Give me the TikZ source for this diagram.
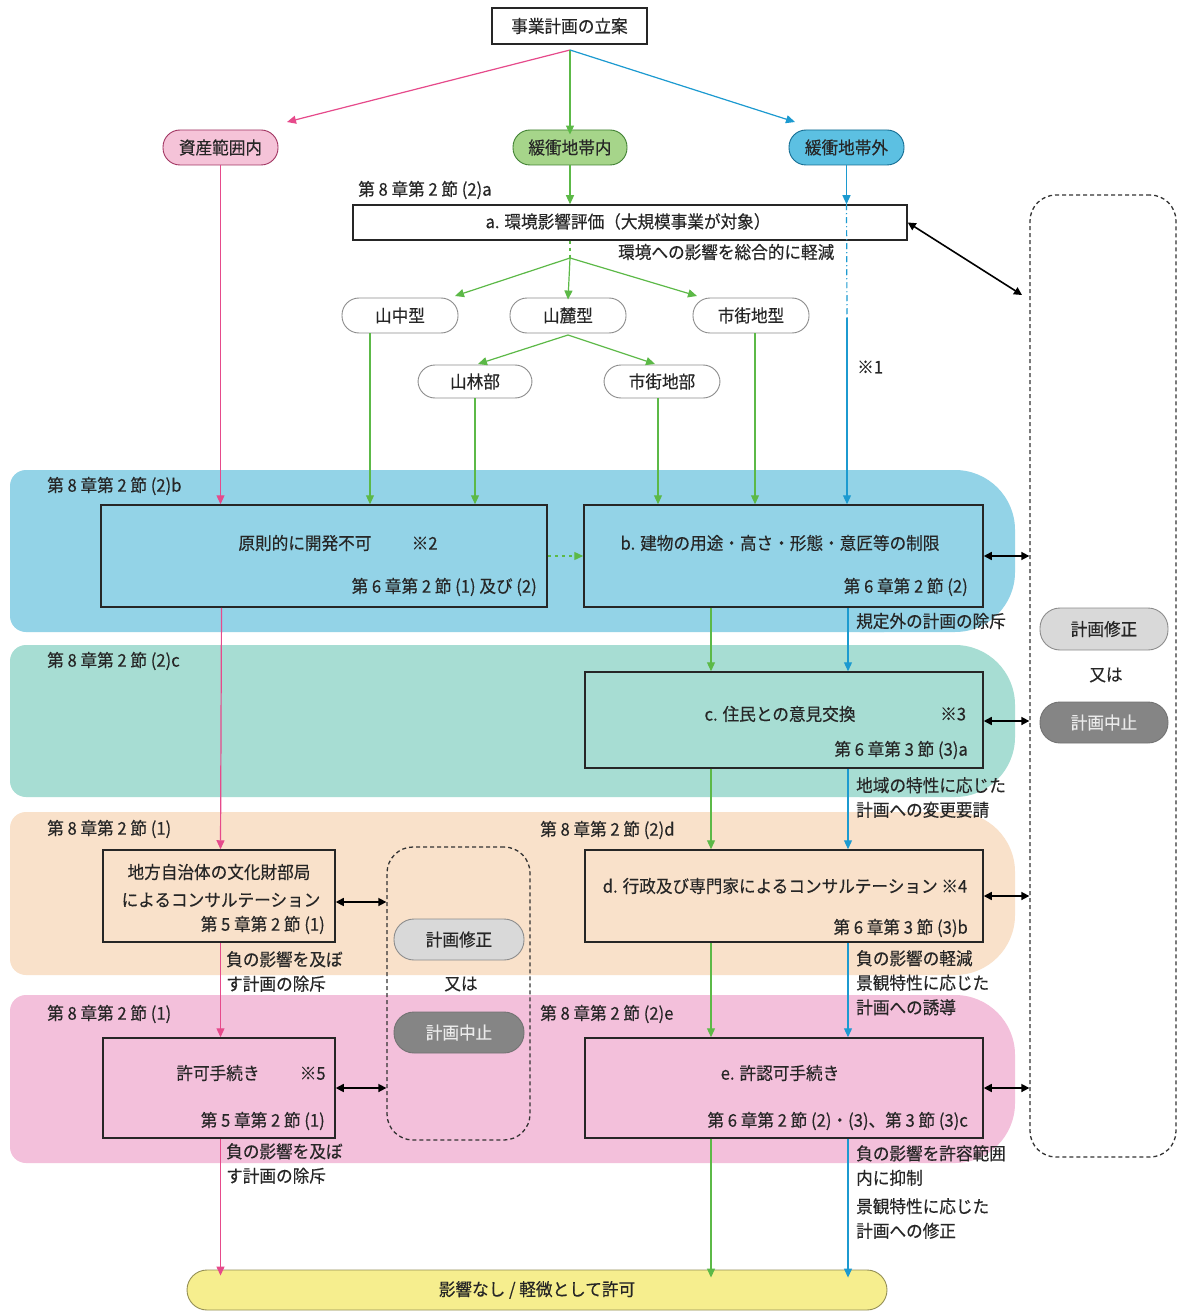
\documentclass[tikz,border=0pt]{standalone}
\usepackage{fontspec}
\setmainfont{Noto Sans CJK JP}[FakeStretch=0.95,FakeBold=0.3]
\usetikzlibrary{arrows.meta,calc}
\definecolor{pinkL}{HTML}{E64A8B}
\definecolor{greenL}{HTML}{5CB947}
\definecolor{blueL}{HTML}{1C9AD0}
\definecolor{bandB}{HTML}{93D3E7}
\definecolor{bandT}{HTML}{A7DDD3}
\definecolor{bandP}{HTML}{F9E1CA}
\definecolor{bandM}{HTML}{F3C0DB}
\definecolor{pillP}{HTML}{F5C3D8}
\definecolor{pillG}{HTML}{A6D58A}
\definecolor{pillB}{HTML}{5CC0E2}
\definecolor{txt}{HTML}{262626}
\definecolor{yel}{HTML}{F6EE8E}
\definecolor{gA}{HTML}{D9D9D9}
\definecolor{gB}{HTML}{858585}
\begin{document}
\begin{tikzpicture}[x=1pt,y=-1pt,
  font=\fontsize{17.5}{20}\selectfont, text=txt,
  bx/.style={draw=black!85, line width=1.5pt, inner sep=0},
  pill/.style={rounded corners=17, draw=#1, line width=0.9pt, inner sep=0, minimum height=35},
  dashbox/.style={draw=black!80, line width=1.3pt, dash pattern=on 4pt off 3pt, rounded corners=26, inner sep=0},
  lbl/.style={anchor=west, inner sep=0},
  lblr/.style={anchor=east, inner sep=0},
  note/.style={anchor=north west, inner sep=0, align=left, font=\fontsize{17.5}{24.5}\selectfont},
  tip/.style={-{Triangle[length=9pt,width=8pt]}},
  arrP/.style={pinkL, line width=1.2pt, tip},
  arrG/.style={greenL, line width=1.2pt, tip},
  arrB/.style={blueL, line width=1.2pt, tip},
  dbl/.style={black, line width=1.6pt, {Triangle[length=8pt,width=8pt]}-{Triangle[length=8pt,width=8pt]}}
]
\useasboundingbox (0,0) rectangle (1178,1313);
\fill[white] (0,0) rectangle (1178,1313);

% bands
\fill[bandB, rounded corners=16] (10,470) rectangle (900,632);
\fill[bandB, rounded corners=60] (800,470) rectangle (1015,632);
\fill[bandT, rounded corners=16] (10,645) rectangle (900,797);
\fill[bandT, rounded corners=60] (800,645) rectangle (1015,797);
\fill[bandP, rounded corners=16] (10,812) rectangle (900,975);
\fill[bandP, rounded corners=60] (800,812) rectangle (1015,975);
\fill[bandM, rounded corners=16] (10,995) rectangle (900,1163);
\fill[bandM, rounded corners=60] (800,995) rectangle (1015,1163);

% top and branch nodes
\node[bx, fill=white, minimum width=155, minimum height=36] (top) at (569.5,26) {事業計画の立案};
\coordinate (split) at (570,50);
\node[pill=pinkL!70!black, fill=pillP, minimum width=115] (s1) at (220.5,147.5) {資産範囲内};
\node[pill=greenL!70!black, fill=pillG, minimum width=114] (s2) at (570,147.5) {緩衝地帯内};
\node[pill=blueL!70!black, fill=pillB, minimum width=115] (s3) at (846.5,147.5) {緩衝地帯外};
\coordinate (pe) at (287,122);
\coordinate (be) at (795,122);

% a box
\node[lbl] (la) at (358,190) {第 8 章第 2 節 (2)a};
\node[bx, fill=white, minimum width=554, minimum height=35] (a) at (630,222.5) {};
\node[inner sep=0] (at) at (628,221.5) {a. 環境影響評価（大規模事業が対象）};
\node[lbl] (ana) at (618,252) {環境への影響を総合的に軽減};

% types
\coordinate (gsplit) at (570,258);
\node[pill=black!45, fill=white, minimum width=116] (t1) at (400,315.5) {山中型};
\node[pill=black!45, fill=white, minimum width=116] (t2) at (568,315.5) {山麓型};
\node[pill=black!45, fill=white, minimum width=116] (t3) at (751,315.5) {市街地型};
\node[pill=black!45, fill=white, minimum width=114, minimum height=33] (u1) at (475,381.5) {山林部};
\node[pill=black!45, fill=white, minimum width=116, minimum height=33] (u2) at (662,381.5) {市街地部};
\coordinate (t1e) at (455,296);
\coordinate (t3e) at (697,296);
\coordinate (t2o) at (568,335);
\coordinate (u1e) at (478,364);
\coordinate (u2e) at (655,364);
\node[lbl] (n1) at (857,367) {※1};

% band b
\node[lbl] (lb) at (47,486) {第 8 章第 2 節 (2)b};
\node[bx, minimum width=446, minimum height=102] (p) at (324,556) {};
\node[inner sep=0] (pt) at (338,543) {原則的に開発不可\hspace{2.3em}※2};
\node[lblr] (pr) at (537,587) {第 6 章第 2 節 (1) 及び (2)};
\node[bx, minimum width=399, minimum height=102] (b) at (783.5,556) {};
\node[inner sep=0] (bt) at (780,543) {b. 建物の用途・高さ・形態・意匠等の制限};
\node[lblr] (br) at (968,587) {第 6 章第 2 節 (2)};
\node[lbl] (bn) at (856,621) {規定外の計画の除斥};

% band c
\node[lbl] (lc) at (47,661) {第 8 章第 2 節 (2)c};
\node[bx, minimum width=398, minimum height=96] (c) at (784,720) {};
\node[inner sep=0] (ct) at (780,714) {c. 住民との意見交換};
\node[lbl] (cs) at (940,714) {※3};
\node[lblr] (cr) at (968,750) {第 6 章第 3 節 (3)a};
\node[note] (cn) at (856,777) {地域の特性に応じた\\計画への変更要請};

% band d
\node[lbl] (ld1) at (47,829) {第 8 章第 2 節 (1)};
\node[bx, minimum width=232, minimum height=92] (k) at (219,896) {};
\node[inner sep=0] (kt1) at (219,872) {地方自治体の文化財部局};
\node[inner sep=0] (kt2) at (221,900) {によるコンサルテーション};
\node[lblr] (kr) at (325,925) {第 5 章第 2 節 (1)};
\node[note] (kn) at (226,951) {負の影響を及ぼ\\す計画の除斥};
\node[lbl] (ld2) at (540,830) {第 8 章第 2 節 (2)d};
\node[bx, minimum width=398, minimum height=92] (d) at (784,896) {};
\node[inner sep=0] (dt) at (785,886) {d. 行政及び専門家によるコンサルテーション ※4};
\node[lblr] (dr) at (968,928) {第 6 章第 3 節 (3)b};
\node[note] (dn) at (856,950) {負の影響の軽減\\景観特性に応じた\\計画への誘導};

% band e
\node[lbl] (le1) at (47,1014) {第 8 章第 2 節 (1)};
\node[bx, minimum width=232, minimum height=100] (q) at (219,1088) {};
\node[inner sep=0] (qt) at (251,1073) {許可手続き\hspace{2.3em}※5};
\node[lblr] (qr) at (325,1121) {第 5 章第 2 節 (1)};
\node[note] (qn) at (226,1143) {負の影響を及ぼ\\す計画の除斥};
\node[lbl] (le2) at (540,1014) {第 8 章第 2 節 (2)e};
\node[bx, minimum width=398, minimum height=100] (e) at (784,1088) {};
\node[inner sep=0] (et) at (780,1073) {e. 許認可手続き};
\node[lblr] (er) at (968,1121) {第 6 章第 2 節 (2)・(3)、第 3 節 (3)c};
\node[note] (en1) at (856,1145) {負の影響を許容範囲\\内に抑制};
\node[note] (en2) at (856,1198) {景観特性に応じた\\計画への修正};

% dashed boxes
\node[dashbox, minimum width=146, minimum height=962] (R) at (1103,676) {};
\node[pill=black!45, fill=gA, minimum width=128, minimum height=42, rounded corners=20] (m1) at (1104,629) {計画修正};
\node[inner sep=0] (or1) at (1106,675) {又は};
\node[pill=black!55, fill=gB, minimum width=128, minimum height=41, rounded corners=20, text=white!92!black] (h1) at (1104,722.5) {計画中止};
\node[dashbox, minimum width=143, minimum height=293] (M) at (458.5,993.5) {};
\node[pill=black!45, fill=gA, minimum width=130, minimum height=41, rounded corners=20] (m2) at (459,939.5) {計画修正};
\node[inner sep=0] (or2) at (461,984) {又は};
\node[pill=black!55, fill=gB, minimum width=130, minimum height=41, rounded corners=20, text=white!92!black] (h2) at (459,1032.5) {計画中止};
\coordinate (ra) at (1022,295);

% final
\node[pill=yel!60!black, fill=yel, minimum width=700, minimum height=40, rounded corners=20] (fin) at (537,1290) {影響なし / 軽微として許可};

% --- connectors from top
\draw[arrP] (split) -- (pe);
\draw[arrG] (split) -- ([yshift=-5]s2.north);
\draw[arrB] (split) -- (be);
\draw[arrG] (s2.south) -- (s2.south |- a.north);
\draw[arrB] (s3.south) -- (s3.south |- a.north);
\draw[greenL, line width=1.2pt, dash pattern=on 3pt off 4pt] (s2.south |- a.south) -- (gsplit);
\draw[arrG] (gsplit) -- (t1e);
\draw[arrG] (gsplit) -- ([yshift=-2]t2.north);
\draw[arrG] (gsplit) -- (t3e);
\draw[arrG] (t2o) -- (u1e);
\draw[arrG] (t2o) -- (u2e);
\draw[arrG] ([xshift=-30]t1.south) -- ([xshift=-30]t1.south |- p.north);
\draw[arrG] (u1.south) -- (u1.south |- p.north);
\draw[arrG] ([xshift=-4]u2.south) -- ([xshift=-4]u2.south |- b.north);
\draw[arrG] ([xshift=4]t3.south) -- ([xshift=4]t3.south |- b.north);
\coordinate (bd) at (847,318);
\draw[blueL, line width=1.2pt, dash pattern=on 6pt off 3pt on 1pt off 3pt] (s3.south |- a.north) -- (bd);
\draw[arrB] (bd) -- (bd |- b.north);
\draw[arrP] (s1.south) -- (s1.south |- p.north);
\draw[greenL, line width=1.3pt, dash pattern=on 3pt off 4pt, tip] (p.east) -- (b.west);

% vertical flows
\draw[arrG] ([xshift=-72.5]b.south) -- ([xshift=-72.5]b.south |- c.north);
\draw[arrB] ([xshift=64.5]b.south) -- ([xshift=64.5]b.south |- c.north);
\draw[arrG] ([xshift=-73]c.south) -- ([xshift=-73]c.south |- d.north);
\draw[arrB] ([xshift=64]c.south) -- ([xshift=64]c.south |- d.north);
\draw[arrG] ([xshift=-73]d.south) -- ([xshift=-73]d.south |- e.north);
\draw[arrB] ([xshift=64]d.south) -- ([xshift=64]d.south |- e.north);
\draw[arrG] ([xshift=-73]e.south) -- ([xshift=-73,yshift=-8]e.south |- fin.north);
\draw[arrB] ([xshift=64]e.south) -- ([xshift=64,yshift=-8]e.south |- fin.north);
\draw[arrP] ([xshift=1]p.south -| s1.south) -- (s1.south |- k.north);
\draw[arrP] (k.south -| s1.south) -- (s1.south |- q.north);
\draw[arrP] (q.south -| s1.south) -- ([yshift=-6]s1.south |- fin.north);

% double arrows
\draw[dbl] (a.east) -- (ra);
\draw[dbl] (b.east) -- (b.east -| R.west);
\draw[dbl] ([yshift=-1]c.east) -- ([yshift=-1]c.east -| R.west);
\draw[dbl] (d.east) -- (d.east -| R.west);
\draw[dbl] (e.east) -- (e.east -| R.west);
\draw[dbl] ([yshift=-6]k.east) -- ([yshift=-6]k.east -| M.west);
\draw[dbl] (q.east) -- (q.east -| M.west);
\end{tikzpicture}
\end{document}
